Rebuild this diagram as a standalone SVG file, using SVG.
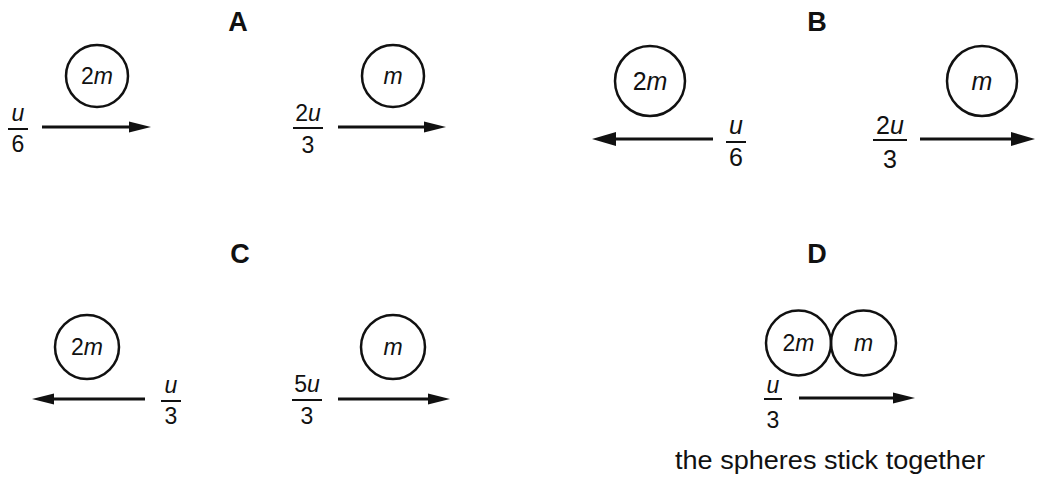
<svg xmlns="http://www.w3.org/2000/svg" width="1038" height="477" viewBox="0 0 1038 477">
<style>
text{font-family:"Liberation Sans",Arial,sans-serif;fill:#111;}
.lbl{font-size:27px;font-weight:bold;text-anchor:middle;}
.ball{fill:none;stroke:#111;stroke-width:2.5;}
.mass{font-size:23px;text-anchor:middle;}
.massB{font-size:25px;text-anchor:middle;}
.fr{font-size:23px;text-anchor:middle;}
.frB{font-size:25px;text-anchor:middle;}
.bar{stroke:#111;stroke-width:2;}
.arr{stroke:#111;stroke-width:3;fill:none;marker-end:url(#ah);}
.arrB{stroke:#111;stroke-width:3;fill:none;marker-end:url(#ahB);}
.cap{font-size:25px;}
.it{font-style:italic;}
</style>
<defs>
<marker id="ah" markerUnits="userSpaceOnUse" markerWidth="24" markerHeight="14" refX="12" refY="7" orient="auto">
<path d="M0,1.5 L22,7 L0,12.5 z" fill="#111"/>
</marker>
<marker id="ahB" markerUnits="userSpaceOnUse" markerWidth="26" markerHeight="16" refX="13" refY="8" orient="auto">
<path d="M0,1 L24,8 L0,15 z" fill="#111"/>
</marker>
</defs>

<g id="labels">
<text class="lbl" x="238" y="31">A</text>
<text class="lbl" x="817" y="31">B</text>
<text class="lbl" x="240" y="263">C</text>
<text class="lbl" x="817" y="263">D</text>
</g>

<g id="A-2m">
<circle class="ball" cx="97" cy="76" r="31"/>
<text class="mass" x="97" y="84">2<tspan class="it">m</tspan></text>
</g>
<g id="A-m">
<circle class="ball" cx="393" cy="76" r="31"/>
<text class="mass" x="393" y="84"><tspan class="it">m</tspan></text>
</g>
<g id="B-2m">
<circle class="ball" cx="650" cy="81" r="35"/>
<text class="massB" x="650" y="90">2<tspan class="it">m</tspan></text>
</g>
<g id="B-m">
<circle class="ball" cx="982" cy="81" r="35"/>
<text class="massB" x="982" y="90"><tspan class="it">m</tspan></text>
</g>
<g id="C-2m">
<circle class="ball" cx="87" cy="347" r="32"/>
<text class="mass" x="87" y="355">2<tspan class="it">m</tspan></text>
</g>
<g id="C-m">
<circle class="ball" cx="393" cy="347" r="32"/>
<text class="mass" x="393" y="355"><tspan class="it">m</tspan></text>
</g>
<g id="D-2m">
<circle class="ball" cx="798.5" cy="343" r="32.5"/>
<text class="mass" x="798.5" y="351">2<tspan class="it">m</tspan></text>
</g>
<g id="D-m">
<circle class="ball" cx="863.5" cy="343" r="32.5"/>
<text class="mass" x="863.5" y="351"><tspan class="it">m</tspan></text>
</g>

<g id="connectors">
<line class="arr" x1="42" y1="127" x2="141" y2="127"/>
<line class="arr" x1="338" y1="127" x2="436" y2="127"/>
<line class="arrB" x1="713" y1="139" x2="603" y2="139"/>
<line class="arrB" x1="920" y1="139" x2="1024" y2="139"/>
<line class="arr" x1="145" y1="399" x2="42" y2="399"/>
<line class="arr" x1="338" y1="399" x2="440" y2="399"/>
<line class="arr" x1="799" y1="398" x2="905" y2="398"/>
</g>

<g id="fractions">
<text class="fr" x="18" y="121"><tspan class="it">u</tspan></text>
<line class="bar" x1="8" y1="129" x2="28" y2="129"/>
<text class="fr" x="18" y="152">6</text>

<text class="fr" x="308" y="121">2<tspan class="it">u</tspan></text>
<line class="bar" x1="293" y1="128" x2="323" y2="128"/>
<text class="fr" x="308" y="153">3</text>

<text class="frB" x="736" y="134"><tspan class="it">u</tspan></text>
<line class="bar" x1="726" y1="142" x2="746" y2="142"/>
<text class="frB" x="736" y="166">6</text>

<text class="frB" x="890" y="134">2<tspan class="it">u</tspan></text>
<line class="bar" x1="873" y1="140" x2="907" y2="140"/>
<text class="frB" x="890" y="168">3</text>

<text class="fr" x="171" y="393"><tspan class="it">u</tspan></text>
<line class="bar" x1="161" y1="401" x2="181" y2="401"/>
<text class="fr" x="171" y="424">3</text>

<text class="fr" x="307" y="392">5<tspan class="it">u</tspan></text>
<line class="bar" x1="292" y1="400" x2="322" y2="400"/>
<text class="fr" x="307" y="424">3</text>

<text class="fr" x="773" y="393"><tspan class="it">u</tspan></text>
<line class="bar" x1="764" y1="399" x2="782" y2="399"/>
<text class="fr" x="773" y="428">3</text>
</g>

<text class="cap" x="675" y="469" textLength="310" lengthAdjust="spacingAndGlyphs">the spheres stick together</text>
</svg>
